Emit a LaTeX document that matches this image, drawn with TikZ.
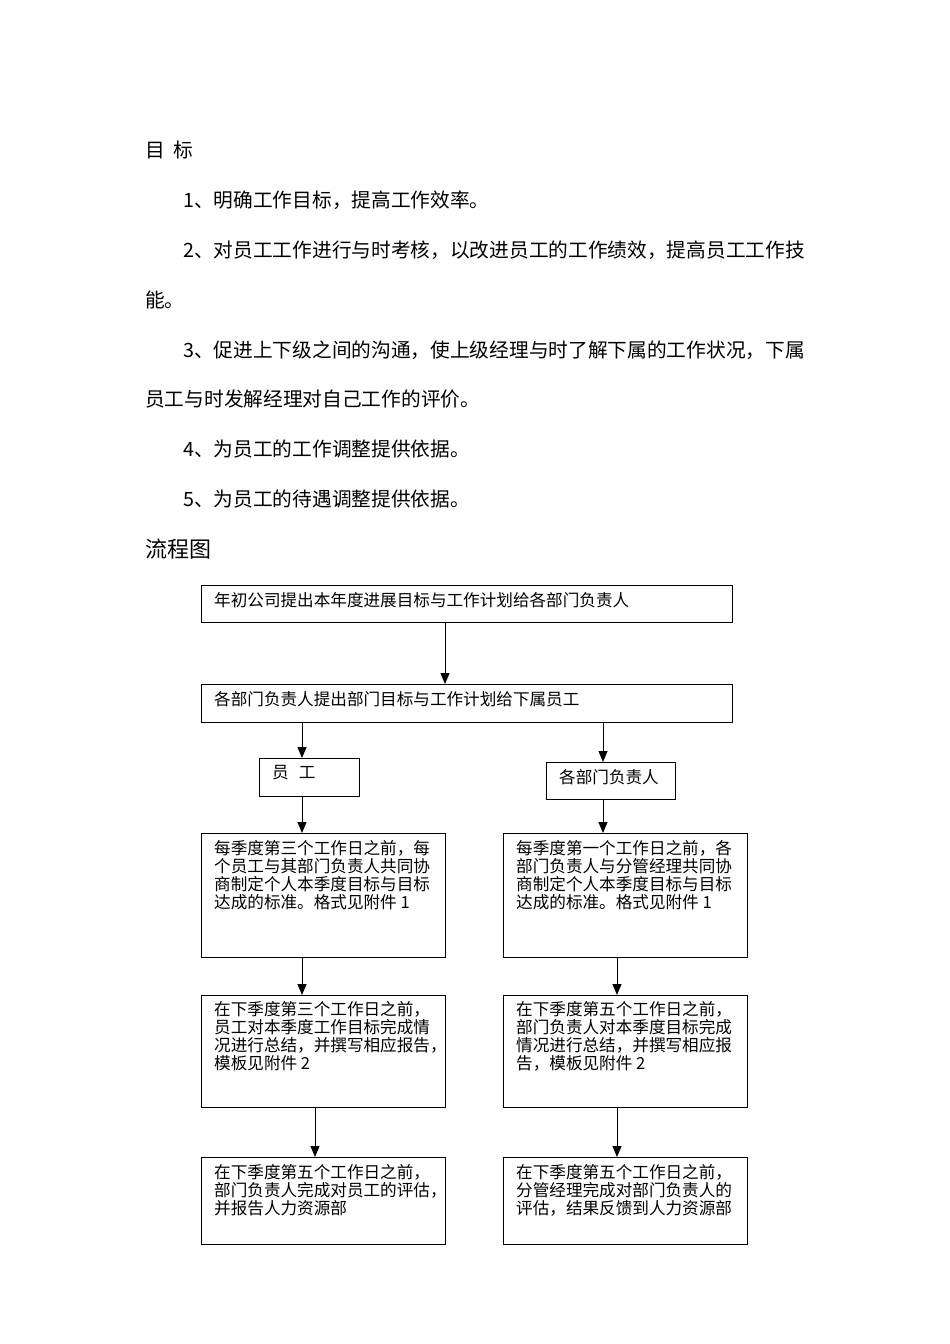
\documentclass[tikz,border=0pt]{standalone}
\usepackage{fontspec}
\setmainfont{Noto Sans CJK SC}
\usetikzlibrary{arrows.meta}
\begin{document}
\begin{tikzpicture}[x=1pt,y=-1pt,
  body/.style={anchor=west,inner sep=0pt,font=\fontsize{19.7}{22}\selectfont},
  heading/.style={anchor=west,inner sep=0pt,font=\fontsize{22}{26}\selectfont},
  box/.style={draw=black,line width=1.3pt,rectangle,inner sep=0pt,anchor=north west},
  boxtext/.style={anchor=north west,inner sep=0pt,align=left,font=\fontsize{16.6}{18.2}\selectfont},
  arr/.style={draw=black,line width=1pt,-{Triangle[width=9pt,length=11pt]}}
]
\useasboundingbox (0,0) rectangle (950,1344);
\fill[white] (0,0) rectangle (950,1344);

% ---- text section ----
\node[body] (t0) at (145,150) {目\hspace{0.45em}标};
\node[body] (t1) at (183,200) {1、明确工作目标，提高工作效率。};
\node[body] (t2) at (183,250) {2、对员工工作进行与时考核，以改进员工的工作绩效，提高员工工作技};
\node[body] (t2b) at (145,300) {能。};
\node[body] (t3) at (183,350) {3、促进上下级之间的沟通，使上级经理与时了解下属的工作状况，下属};
\node[body] (t3b) at (145,399) {员工与时发解经理对自己工作的评价。};
\node[body] (t4) at (183,449) {4、为员工的工作调整提供依据。};
\node[body] (t5) at (183,499) {5、为员工的待遇调整提供依据。};
\node[heading] (t6) at (145,549) {流程图};

% ---- flowchart boxes ----
\node[box,minimum width=531pt,minimum height=37pt] (b1) at (201,585) {};
\node[boxtext,anchor=west] (b1t) at (214,600) {年初公司提出本年度进展目标与工作计划给各部门负责人};

\node[box,minimum width=531pt,minimum height=38pt] (b2) at (201,684) {};
\node[boxtext,anchor=west] (b2t) at (214,699) {各部门负责人提出部门目标与工作计划给下属员工};

\node[box,minimum width=100pt,minimum height=38pt] (yg) at (259,758) {};
\node[boxtext,anchor=west] (ygt) at (272,773) {员\hspace{0.6em}工};

\node[box,minimum width=129pt,minimum height=37pt] (fz) at (546,762) {};
\node[boxtext,anchor=west] (fzt) at (559,777) {各部门负责人};

\node[box,minimum width=244pt,minimum height=124pt] (l1) at (201,833) {};
\node[boxtext] (l1t) at (214,840) {每季度第三个工作日之前，每\\个员工与其部门负责人共同协\\商制定个人本季度目标与目标\\达成的标准。格式见附件 1};

\node[box,minimum width=244pt,minimum height=124pt] (r1) at (503,833) {};
\node[boxtext] (r1t) at (516,840) {每季度第一个工作日之前，各\\部门负责人与分管经理共同协\\商制定个人本季度目标与目标\\达成的标准。格式见附件 1};

\node[box,minimum width=244pt,minimum height=112pt] (l2) at (201,995) {};
\node[boxtext] (l2t) at (214,1001) {在下季度第三个工作日之前，\\员工对本季度工作目标完成情\\况进行总结，并撰写相应报告，\\模板见附件 2};

\node[box,minimum width=244pt,minimum height=112pt] (r2) at (503,995) {};
\node[boxtext] (r2t) at (516,1001) {在下季度第五个工作日之前，\\部门负责人对本季度目标完成\\情况进行总结，并撰写相应报\\告，模板见附件 2};

\node[box,minimum width=244pt,minimum height=87pt] (l3) at (201,1157) {};
\node[boxtext] (l3t) at (214,1164) {在下季度第五个工作日之前，\\部门负责人完成对员工的评估，\\并报告人力资源部};

\node[box,minimum width=244pt,minimum height=87pt] (r3) at (503,1157) {};
\node[boxtext] (r3t) at (516,1164) {在下季度第五个工作日之前，\\分管经理完成对部门负责人的\\评估，结果反馈到人力资源部};

% ---- connector x positions ----
\coordinate (xa) at (445,0);
\coordinate (xl) at (302,0);
\coordinate (xl2) at (315,0);
\coordinate (xr) at (603,0);
\coordinate (xr2) at (617,0);

\draw[arr] (b1.south -| xa) -- (b2.north -| xa);
\draw[arr] (b2.south -| xl) -- (yg.north -| xl);
\draw[arr] (b2.south -| xr) -- (fz.north -| xr);
\draw[arr] (yg.south -| xl) -- (l1.north -| xl);
\draw[arr] (fz.south -| xr) -- (r1.north -| xr);
\draw[arr] (l1.south -| xl) -- (l2.north -| xl);
\draw[arr] (r1.south -| xr2) -- (r2.north -| xr2);
\draw[arr] (l2.south -| xl2) -- (l3.north -| xl2);
\draw[arr] (r2.south -| xr2) -- (r3.north -| xr2);
\end{tikzpicture}
\end{document}
